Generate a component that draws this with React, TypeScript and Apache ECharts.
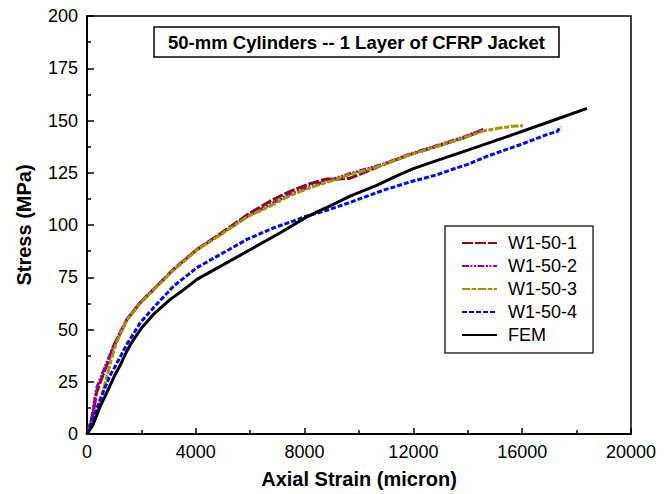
import React, { useEffect, useRef } from "react";
import * as echarts from "echarts";

const FONT = "'Liberation Sans', Arial, Helvetica, sans-serif";

const seriesNames = ["W1-50-1", "W1-50-2", "W1-50-3", "W1-50-4", "FEM"];
const seriesColors = ["#8b0a0a", "#990099", "#999900", "#0000ff", "#000000"];

const w1_50_1: [number, number][] = [
  [0, 0], [200, 8], [355, 20], [612, 29], [846, 37], [980, 42.2], [1470, 54.9],
  [1960, 62.9], [2450, 69.2], [3185, 78.8], [4042, 88.3], [4900, 95.8], [5880, 104.8],
  [6728, 111.4], [7463, 116.1], [8199, 119.8], [8811, 122], [9301, 122], [9669, 122.4],
  [10159, 124.9], [10894, 128.9], [11875, 133.7], [12855, 137.6], [13836, 141.6], [14571, 145.6],
];
const w1_50_2: [number, number][] = [
  [0, 0], [150, 6], [355, 22], [600, 30], [846, 38], [980, 42], [1470, 54.9],
  [1960, 62.9], [2450, 69.2], [3185, 78.8], [4042, 88.3], [4900, 95.5], [5880, 104],
  [6728, 109.8], [7463, 114.8], [8199, 118.5], [8934, 121.5], [9669, 124.6], [10404, 127.3],
  [10894, 129.2], [11875, 134], [12855, 138], [13836, 142], [14571, 145.8],
];
const w1_50_3: [number, number][] = [
  [0, 0], [300, 8], [478, 15], [700, 26], [900, 36], [1091, 44], [1470, 54.5],
  [1960, 62.5], [2450, 69], [3185, 78.5], [4042, 88], [4900, 95.3], [5880, 103.8],
  [6728, 109], [7463, 114.1], [8199, 117.8], [8934, 120.9], [9669, 124.1], [10404, 126.8],
  [10894, 128.9], [11875, 133.6], [12855, 137.6], [13836, 141.6], [14571, 145],
  [15184, 146.4], [15600, 147.2], [16029, 147.5],
];
const w1_50_4: [number, number][] = [
  [0, 0], [355, 12], [490, 16.7], [846, 28], [980, 31], [1470, 43], [1960, 53.3],
  [2450, 60.5], [3185, 70.8], [4042, 79.6], [4900, 85.9], [5880, 93.1], [6860, 98.6],
  [7500, 101.5], [8000, 104], [8500, 105.8], [9000, 107.8], [9669, 110.8], [10300, 113.8],
  [10894, 116.6], [11875, 120.6], [12855, 124], [13468, 126.8], [14000, 129], [14694, 132.8],
  [15919, 138.4], [16899, 143.2], [17291, 144.8], [17414, 147.2],
];
const fem: [number, number][] = [
  [0, 0], [208, 4], [478, 13], [735, 20], [1000, 27.5], [1225, 33], [1459, 39.5],
  [1654, 44], [2021, 51], [2450, 57.3], [3062, 64.4], [3500, 68.5], [4042, 74],
  [5145, 82], [6125, 89.1], [7105, 96.3], [8000, 103.3], [8500, 106.5], [9000, 109.5],
  [9669, 113.8], [10649, 119], [11385, 123.5], [12000, 127], [12610, 129.7], [14000, 135.8],
  [15500, 142.5], [17000, 149.4], [18380, 155.8],
];
const seriesData = [w1_50_1, w1_50_2, w1_50_3, w1_50_4, fem];
const seriesDash: (number[] | "solid")[] = [
  [11, 2],
  [7, 1.5, 2, 1.5, 2, 1.5],
  [8, 1.5, 5, 1.5],
  [5, 2],
  "solid",
];
const seriesWidth = [3, 3, 3, 3, 3];

const xMin = 0, xMax = 20000, xInterval = 4000;
const yMin = 0, yMax = 200, yInterval = 25;
const titleText = "50-mm Cylinders -- 1 Layer of CFRP Jacket";
const xName = "Axial Strain (micron)";
const yName = "Stress (MPa)";

export default function App() {
  const ref = useRef<HTMLDivElement>(null);
  useEffect(() => {
    if (!ref.current) return;
    const chart = echarts.init(ref.current, null, { renderer: "svg" });
    const axisCommon = {
      axisLine: { show: true, onZero: false, lineStyle: { color: "#000", width: 2 } },
      splitLine: { show: false },
      minorTick: { show: true, splitNumber: 2, length: 4, lineStyle: { color: "#000", width: 1.5 } },
      nameLocation: "middle" as const,
      nameTextStyle: { color: "#000", fontSize: 20, fontWeight: "bold" as const, fontFamily: FONT },
    };
    const label = {
      color: "#000", fontSize: 18, fontFamily: FONT,
      formatter: (v: number) => String(v),
    };
    chart.setOption({
      animation: false,
      backgroundColor: "#fff",
      grid: {
        left: 87, top: 16, right: 39, bottom: 59,
        show: true, borderColor: "#000", borderWidth: 1.5, backgroundColor: "transparent",
      },
      xAxis: {
        type: "value", min: xMin, max: xMax, interval: xInterval,
        ...axisCommon,
        axisTick: { show: true, inside: true, length: 6, lineStyle: { color: "#000", width: 1.5 } },
        axisLabel: { ...label, margin: 9 },
        name: xName, nameGap: 35,
      },
      yAxis: {
        type: "value", min: yMin, max: yMax, interval: yInterval,
        ...axisCommon,
        axisTick: { show: true, inside: true, length: 7, lineStyle: { color: "#000", width: 1.5 } },
        axisLabel: { ...label, margin: 9 },
        name: yName, nameGap: 53,
      },
      legend: {
        orient: "vertical", left: 445, top: 226,
        itemWidth: 35, itemHeight: 17, itemGap: 5,
        padding: [8, 16, 9, 16],
        borderColor: "#333", borderWidth: 1.5, backgroundColor: "#fff",
        itemStyle: { opacity: 0 },
        textStyle: { fontSize: 18, color: "#000", fontFamily: FONT, padding: [0, 0, 0, 6] },
        data: seriesNames,
      },
      graphic: [
        {
          type: "group",
          children: [
            {
              type: "rect",
              shape: { x: 154, y: 27, width: 405, height: 30 },
              style: { fill: "#fff", stroke: "#000", lineWidth: 1.5 },
            },
            {
              type: "text",
              x: 356.5, y: 42,
              style: {
                text: titleText, align: "center", verticalAlign: "middle",
                font: `bold 18.5px ${FONT}`, fill: "#000",
              },
            },
          ],
        },
      ],
      series: seriesNames.map((name, i) => ({
        name,
        type: "line",
        data: seriesData[i],
        showSymbol: false,
        symbol: "none",
        smooth: false,
        color: seriesColors[i],
        lineStyle: { color: seriesColors[i], width: seriesWidth[i], type: seriesDash[i] },
        z: 2 + i,
      })),
    });
    return () => chart.dispose();
  }, []);
  return (
    <div
      ref={ref}
      style={{ position: "fixed", left: 0, top: 0, width: 670, height: 494, background: "#fff" }}
    />
  );
}
